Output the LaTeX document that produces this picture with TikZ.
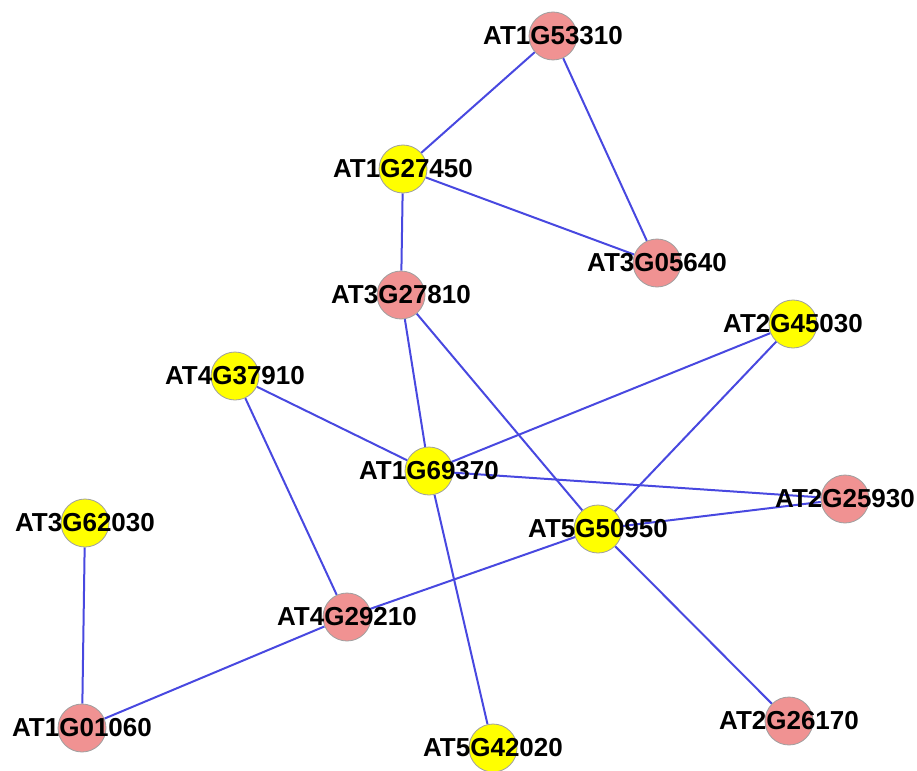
\documentclass[tikz,border=0pt]{standalone}
\usepackage{fontspec}
\setmainfont{Liberation Sans}
\usepackage{tikz}
\usetikzlibrary{backgrounds}
\usepackage{xcolor}
\definecolor{genepink}{RGB}{240,146,146}
\definecolor{geneyellow}{RGB}{255,255,0}
\definecolor{edgeblue}{RGB}{72,72,224}

\begin{document}
\begin{tikzpicture}[
				x=1pt,y=1pt,
				gene/.style={draw=gray!75,line width=0.8pt,circle,minimum size=48pt,inner sep=0pt},
				pinkgene/.style={gene,fill=genepink},
				yellowgene/.style={gene,fill=geneyellow},
				every label/.style={font=\fontsize{26}{28}\selectfont\bfseries,inner sep=0pt},
				link/.style={draw=edgeblue,line width=2pt}
				]
				\useasboundingbox (0,0) rectangle (917,-770);
				
				% Geni
				\node[pinkgene,label=center:AT1G53310] (g53310) at (553,-36) {};
				\node[yellowgene,label=center:AT1G27450] (g27450) at (403,-169) {};
				\node[pinkgene,label=center:AT3G05640] (g05640) at (657,-263) {};
				\node[pinkgene,label=center:AT3G27810] (g27810) at (401,-295) {};
				\node[yellowgene,label=center:AT2G45030] (g45030) at (793,-324) {};
				\node[yellowgene,label=center:AT4G37910] (g37910) at (235,-376) {};
				\node[yellowgene,label=center:AT1G69370] (g69370) at (429,-471) {};
				\node[pinkgene,label=center:AT2G25930] (g25930) at (845,-499) {};
				\node[yellowgene,label=center:AT3G62030] (g62030) at (85,-523) {};
				\node[yellowgene,label=center:AT5G50950] (g50950) at (598,-529) {};
				\node[pinkgene,label=center:AT4G29210] (g29210) at (347,-617) {};
				\node[pinkgene,label=center:AT1G01060] (g01060) at (82,-728) {};
				\node[pinkgene,label=center:AT2G26170] (g26170) at (789,-721) {};
				\node[yellowgene,label=center:AT5G42020] (g42020) at (493,-748) {};
				
				% Interazioni
				\begin{scope}[on background layer]
				\draw[link] (g53310) -- (g27450);
				\draw[link] (g53310) -- (g05640);
				\draw[link] (g27450) -- (g05640);
				\draw[link] (g27450) -- (g27810);
				\draw[link] (g27810) -- (g69370);
				\draw[link] (g27810) -- (g50950);
				\draw[link] (g45030) -- (g69370);
				\draw[link] (g45030) -- (g50950);
				\draw[link] (g37910) -- (g69370);
				\draw[link] (g37910) -- (g29210);
				\draw[link] (g69370) -- (g25930);
				\draw[link] (g69370) -- (g42020);
				\draw[link] (g50950) -- (g25930);
				\draw[link] (g50950) -- (g29210);
				\draw[link] (g50950) -- (g26170);
				\draw[link] (g62030) -- (g01060);
				\draw[link] (g29210) -- (g01060);
				\end{scope}
				
			\end{tikzpicture}
\end{document}
